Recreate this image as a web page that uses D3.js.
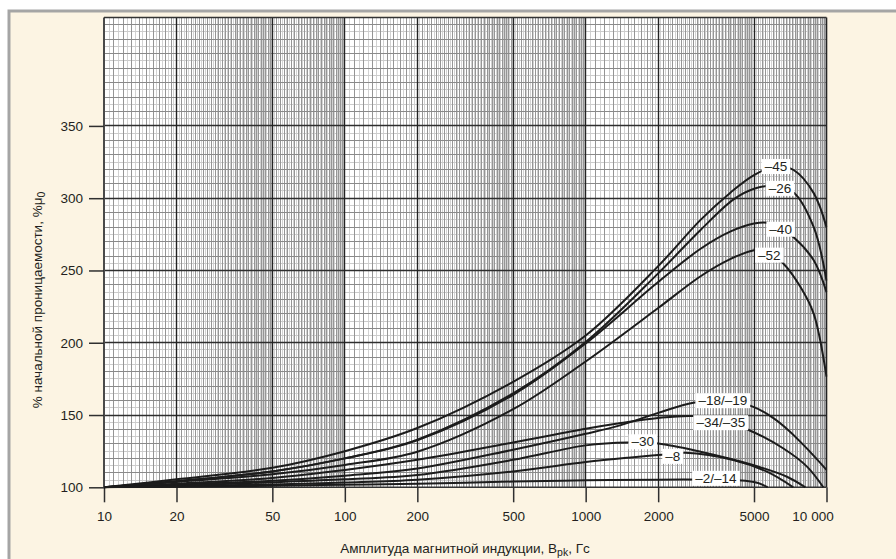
<!DOCTYPE html>
<html><head><meta charset="utf-8">
<script src="https://cdn.jsdelivr.net/npm/d3@7"></script>
<style>
html,body{margin:0;padding:0;background:#fff;}
svg{display:block;font-family:"Liberation Sans",Arial,sans-serif;}
</style>
</head><body><svg id="c" width="896" height="559"></svg>
<script>
// ---------- DATA ----------
const xTicks = [10, 20, 50, 100, 200, 500, 1000, 2000, 5000, 10000];
const xTickLabels = ["10", "20", "50", "100", "200", "500", "1000", "2000", "5000", "10 000"];
const yTicks = [100, 150, 200, 250, 300, 350];

// [B (Гс), % μ0]
const s45 = [[10,100],[20,105.5],[50,113.5],[100,125],[200,141],[500,173],[1000,205],[2000,253],[3000,285],[4000,304],[5000,316],[6170,322],[7300,319.5],[8850,303.5],[10000,280]];
const s26 = [[10,100],[20,104.2],[50,111],[100,120],[200,133],[500,165],[1000,200.5],[2000,248],[3000,278],[4100,299],[5000,306.5],[6000,308.5],[7300,304],[8850,280],[10000,243]];
const s40 = [[10,100],[20,104.2],[50,111],[100,120],[200,132.5],[500,164],[1000,199.5],[2000,242],[3000,265],[4000,277],[5000,282.5],[5700,283],[6450,279],[7300,273],[8850,257],[10000,235]];
const s52 = [[10,100],[20,103.7],[50,109],[100,115.5],[200,124.6],[500,154],[1000,187],[2000,224],[3000,246],[4000,258],[5000,264],[5500,264.5],[6600,255],[7800,238.5],[8850,220],[10000,176.5]];
const s18 = [[10,100],[20,101.8],[50,104.5],[100,108],[200,113],[500,126],[1000,137],[1400,143],[2000,151.5],[2800,158.5],[3700,160],[5000,155.5],[6000,148],[7000,139],[8000,129.5],[9000,120.5],[10000,112]];
const s34 = [[10,100],[20,102.5],[50,106.5],[100,112],[200,119],[500,131],[1000,140.5],[1400,144.5],[2000,148],[2800,149.3],[3640,146],[4700,140],[6600,127],[8300,114.3],[9700,100]];
const s30 = [[10,100],[20,101.3],[50,103.5],[100,105.5],[200,108.5],[500,119],[1000,129],[1500,131],[2000,130.3],[3000,124.6],[4950,115.4],[6850,107.3],[8170,100]];
const s8  = [[10,100],[20,100.8],[50,102],[100,103.3],[200,105.2],[500,111],[1000,117.5],[1500,120.5],[2000,122.3],[2600,123.9],[4100,118.9],[5660,110.8],[7280,100]];
const s2  = [[10,100],[20,100.4],[50,101],[100,101.8],[200,102.4],[500,104],[1000,104.8],[2000,105.3],[3500,105.2],[4600,104.6],[5200,103],[5700,100]];

const seriesList = [s45, s26, s40, s52, s18, s34, s30, s8, s2];
const labelNames = ["–45", "–26", "–40", "–52", "–18/–19", "–34/–35", "–30", "–8", "–2/–14"];
const labelB = [6170, 6410, 6450, 5790, 3710, 3640, 1727, 2300, 3470];
const labelV = [321.9, 306.8, 278.5, 260.6, 159.9, 144.7, 131.5, 121.4, 106.2];

const xTitle = ["Амплитуда магнитной индукции, B", "pk", ", Гс"];
const yTitle = ["% начальной проницаемости, %μ", "0"];

// ---------- DRAW ----------
const svg = d3.select("#c");
const W = 896, H = 559;
const L = 104, R = 826.5, T = 17.5, B = 487.3;

// page frame
svg.append("rect").attr("x", 0).attr("y", 0).attr("width", W).attr("height", H).attr("fill", "#ffffff");
svg.append("rect").attr("x", 9).attr("y", 11).attr("width", 1200).attr("height", 1200)
  .attr("fill", "#fcf4e3").attr("stroke", "#a5a5a5").attr("stroke-width", 3);

const x = d3.scaleLog().domain([10, 10000]).range([L, R]);
const y = d3.scaleLinear().domain([100, 425]).range([B, T]);

svg.append("rect").attr("x", L).attr("y", T).attr("width", R - L).attr("height", B - T).attr("fill", "#fff");

const snap = v => Math.round(v - 0.5) + 0.5;

// grid values (log graph paper)
const vLight = [], vDark = [];
[10, 100, 1000].forEach(d => {
  for (let k = 21; k <= 99; k++) {
    if (k === 40) continue;
    const m = k / 20;
    if (m >= 5) break;
    (k % 2 === 0 ? vDark : vLight).push(m * d);
  }
  for (let k = 51; k <= 99; k++) {
    const m = k / 10;
    (k % 2 === 0 ? vDark : vLight).push(m * d);
  }
});
const hLight = [], hDark = [], hMajor = [];
for (let v = 105; v <= 420; v += 5) {
  if (yTicks.includes(v)) hMajor.push(v);
  else if (v % 10 === 0) hDark.push(v);
  else hLight.push(v);
}

const g = svg.append("g");
function vLines(vals, color, w) {
  g.append("g").selectAll("line").data(vals).join("line")
    .attr("x1", d => snap(x(d))).attr("x2", d => snap(x(d)))
    .attr("y1", T).attr("y2", B).attr("stroke", color).attr("stroke-width", w);
}
function hLines(vals, color, w) {
  g.append("g").selectAll("line").data(vals).join("line")
    .attr("y1", d => snap(y(d))).attr("y2", d => snap(y(d)))
    .attr("x1", L).attr("x2", R).attr("stroke", color).attr("stroke-width", w);
}
vLines(vLight, "#d2d2d2", 1);
hLines(hLight, "#cccccc", 1);
vLines(vDark, "#959595", 1);
hLines(hDark, "#8a8a8a", 1);
hLines(hMajor, "#2e2e2e", 1.3);
vLines(xTicks.slice(1, -1), "#222", 1.4);

// plot border
g.append("line").attr("x1", L).attr("x2", L).attr("y1", T).attr("y2", B).attr("stroke", "#4a4a4a").attr("stroke-width", 2);
g.append("line").attr("x1", R).attr("x2", R).attr("y1", T).attr("y2", B).attr("stroke", "#222").attr("stroke-width", 1.6);
g.append("line").attr("x1", L).attr("x2", R).attr("y1", T).attr("y2", T).attr("stroke", "#333").attr("stroke-width", 1.6);
g.append("line").attr("x1", L).attr("x2", R).attr("y1", B).attr("y2", B).attr("stroke", "#333").attr("stroke-width", 1.6);

// axes
const yAxis = d3.axisLeft(y).tickValues(yTicks).tickSize(15).tickPadding(6);
const ya = svg.append("g").attr("transform", `translate(${L},0)`).call(yAxis);
const xAxis = d3.axisBottom(x).tickValues(xTicks).tickSize(15).tickPadding(9)
  .tickFormat((d, i) => xTickLabels[i]);
const xa = svg.append("g").attr("transform", `translate(0,${B})`).call(xAxis);
[ya, xa].forEach(a => {
  a.select(".domain").remove();
  a.selectAll(".tick line").attr("stroke", "#2f2f2f").attr("stroke-width", 1.5);
  a.selectAll(".tick text").attr("fill", "#231f20").style("font-size", "13.5px")
    .style("font-family", '"Liberation Sans",Arial,sans-serif');
});
xa.selectAll(".tick text").filter((d, i) => i === xTicks.length - 1).attr("dx", -14);

// clip
svg.append("clipPath").attr("id", "clp").append("rect")
  .attr("x", L).attr("y", T).attr("width", R - L + 1).attr("height", B - T + 1);

const line = d3.line().x(d => x(d[0])).y(d => y(d[1])).curve(d3.curveCatmullRom.alpha(0.5));
svg.append("g").attr("clip-path", "url(#clp)").selectAll("path").data(seriesList).join("path")
  .attr("d", line).attr("fill", "none").attr("stroke", "#1c1c1c").attr("stroke-width", 2)
  .attr("stroke-linejoin", "round");

// curve labels
const lg = svg.append("g");
labelNames.forEach((name, i) => {
  const gg = lg.append("g");
  const t = gg.append("text").attr("x", x(labelB[i])).attr("y", y(labelV[i]))
    .attr("text-anchor", "middle").attr("dominant-baseline", "central")
    .attr("fill", "#231f20").style("font-size", "13.5px").text(name);
  const bb = t.node().getBBox();
  gg.insert("rect", "text").attr("x", bb.x - 3).attr("y", y(labelV[i]) - 7.5)
    .attr("width", bb.width + 6).attr("height", 15).attr("fill", "#fff");
});

// axis titles
const xt = svg.append("text").attr("x", 465).attr("y", 553).attr("text-anchor", "middle")
  .attr("fill", "#231f20").style("font-size", "13.5px");
xt.append("tspan").text(xTitle[0]);
xt.append("tspan").attr("dy", 3).style("font-size", "10.5px").text(xTitle[1]);
xt.append("tspan").attr("dy", -3).text(xTitle[2]);

const yt = svg.append("text").attr("transform", "translate(42,300) rotate(-90)")
  .attr("text-anchor", "middle").attr("fill", "#231f20").style("font-size", "13.5px");
yt.append("tspan").text(yTitle[0]);
yt.append("tspan").attr("dy", 3).style("font-size", "10.5px").text(yTitle[1]);
</script></body></html>
